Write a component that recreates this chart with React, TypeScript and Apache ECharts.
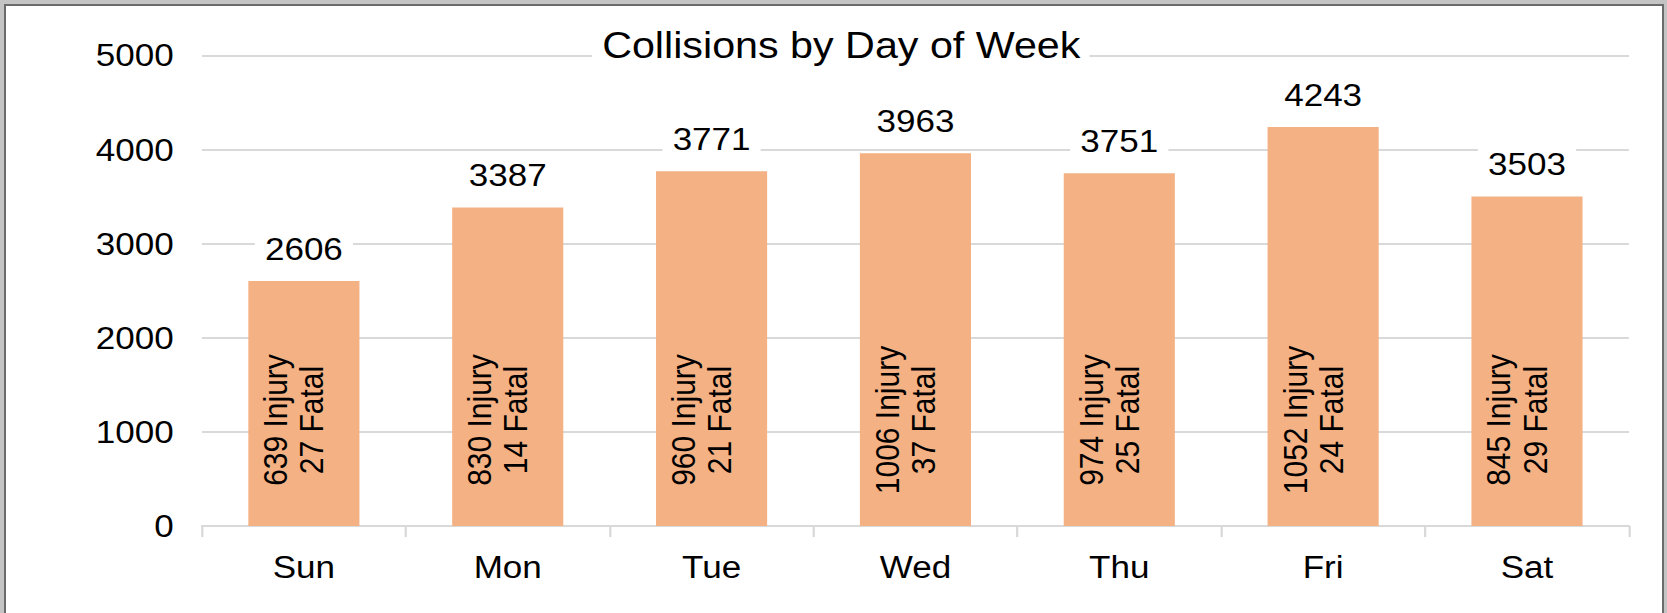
import React, { useEffect, useRef } from "react";
import * as echarts from "echarts";

const categories = ["Sun", "Mon", "Tue", "Wed", "Thu", "Fri", "Sat"];
const totals = [2606, 3387, 3771, 3963, 3751, 4243, 3503];
const injuries = [639, 830, 960, 1006, 974, 1052, 845];
const fatals = [27, 14, 21, 37, 25, 24, 29];
const yMin = 0;
const yMax = 5000;
const yStep = 1000;
const titleText = "Collisions by Day of Week";

const FONT = "'Liberation Sans', Arial, sans-serif";
const CHART_W = 1475;
const SCALE_X = 1667 / CHART_W;

export default function App() {
  const ref = useRef<HTMLDivElement>(null);

  useEffect(() => {
    if (!ref.current) return;
    const chart = echarts.init(ref.current, undefined, { renderer: "svg" });
    chart.setOption({
      animation: false,
      title: {
        text: titleText,
        left: 523.8,
        top: 24.5,
        padding: [2, 8, 2, 9],
        backgroundColor: "#ffffff",
        textStyle: {
          fontFamily: FONT,
          fontSize: 36.5,
          lineHeight: 37,
          fontWeight: "normal",
          color: "#000000",
        },
      },
      grid: { left: 178.7, right: 33.7, top: 55.7, bottom: 87 },
      xAxis: {
        type: "category",
        data: categories,
        boundaryGap: true,
        axisLine: { show: true, lineStyle: { color: "#d9d9d9", width: 2 } },
        axisTick: { show: true, length: 11, lineStyle: { color: "#d9d9d9", width: 2 } },
        axisLabel: {
          margin: 26,
          fontFamily: FONT,
          fontSize: 31,
          lineHeight: 31,
          color: "#000000",
        },
      },
      yAxis: {
        type: "value",
        min: yMin,
        max: yMax,
        interval: yStep,
        axisLine: { show: false },
        axisTick: { show: false },
        splitLine: { show: true, lineStyle: { color: "#d9d9d9", width: 2 } },
        axisLabel: {
          margin: 25,
          fontFamily: FONT,
          fontSize: 31,
          color: "#000000",
          formatter: (v: number) => String(v),
        },
      },
      series: [
        {
          type: "bar",
          data: totals,
          barWidth: "54.5%",
          itemStyle: { color: "#F4B183" },
          label: {
            show: true,
            position: "insideBottom",
            distance: 106,
            rotate: 90,
            align: "center",
            verticalAlign: "middle",
            offset: [0, -9],
            fontFamily: FONT,
            fontSize: 30,
            lineHeight: 32,
            color: "#000000",
            formatter: (p: any) => `${injuries[p.dataIndex]} Injury\n${fatals[p.dataIndex]} Fatal`,
          },
        },
        {
          type: "bar",
          data: totals,
          barWidth: "54.5%",
          barGap: "-100%",
          itemStyle: { color: "rgba(0,0,0,0)" },
          silent: true,
          label: {
            show: true,
            position: "top",
            distance: 14.6,
            backgroundColor: "#ffffff",
            padding: [2, 9, 2, 9],
            fontFamily: FONT,
            fontSize: 31,
            lineHeight: 31,
            color: "#000000",
            formatter: "{c}",
          },
        },
      ],
    });
    return () => chart.dispose();
  }, []);

  return (
    <div
      style={{
        position: "fixed",
        left: 0,
        top: 0,
        width: 1667,
        height: 613,
        background: "#c4c4c4",
        overflow: "hidden",
      }}
    >
      <div
        style={{
          position: "absolute",
          left: 4,
          top: 4,
          width: 1660,
          height: 640,
          background: "#ffffff",
          border: "2px solid #6b6b6b",
          boxSizing: "border-box",
        }}
      />
      <div
        ref={ref}
        style={{
          position: "absolute",
          left: 0,
          top: 0,
          width: CHART_W,
          height: 613,
          transform: `scaleX(${SCALE_X})`,
          transformOrigin: "0 0",
        }}
      />
    </div>
  );
}
